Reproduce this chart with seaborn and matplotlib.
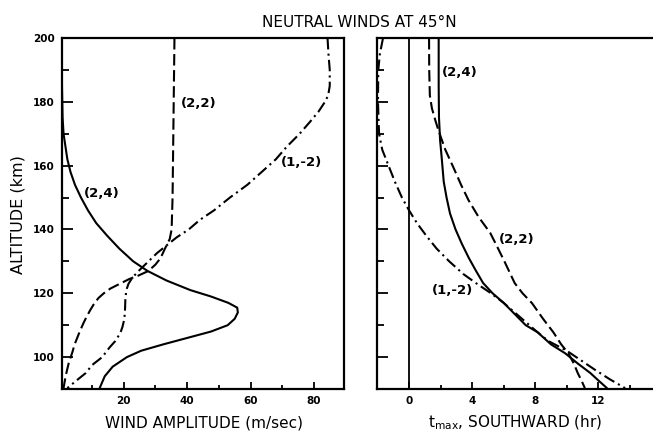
import matplotlib
matplotlib.use("Agg")
import matplotlib.pyplot as plt
import pandas as pd
import seaborn as sns

# Tidal modes shown in both panels
modes = ["(2,4)", "(2,2)", "(1,-2)"]

# Wind amplitude (m/sec) against altitude (km)
amp_alt_24 = [200, 185, 175, 170, 166, 162, 158, 154, 150, 146, 142, 138, 134, 130,
              127, 124, 121, 119, 117, 115.5, 114, 112, 110, 108, 106, 104, 102,
              100, 97, 94, 90.3]
amp_24 = [0.4, 0.5, 0.7, 1.0, 1.6, 2.2, 3.2, 4.6, 6.5, 8.7, 11.3, 14.8, 18.6, 23,
          27.5, 33.5, 41, 47.5, 53, 55.8, 56, 55, 52.8, 47.5, 40, 32.5, 25.5,
          21, 16.5, 14, 12.4]

amp_alt_22 = [200, 150, 140, 137, 134, 131, 129, 127, 125.5, 124.5, 123, 121.5, 120,
              118.5, 116.5, 114.7, 112.5, 110.7, 108, 106, 104, 101.6, 98, 95.5,
              93.7, 90.3]
amp_22 = [36, 35.4, 35.1, 34.5, 33, 31.6, 30, 27.8, 24.5, 21.8, 18.8, 15.8, 13.7,
          12, 10.5, 9.4, 8.2, 7.3, 6.1, 5.3, 4.5, 3.8, 2.6, 2.0, 1.6, 1.0]

amp_alt_12 = [200, 195, 190, 185, 182, 180, 177, 174, 170, 166, 162, 158, 154, 150,
              146, 143, 140, 137.6, 135, 132.6, 130, 127.3, 125, 123, 121, 118, 115,
              112, 109.5, 107.5, 105, 103, 100, 97.5, 95, 93, 90.3]
amp_12 = [84.3, 84.6, 85, 85, 84.5, 83.5, 81.5, 79, 75.5, 71.5, 68, 63.5, 59, 53.5,
          48.5, 44, 40.5, 36.8, 33.5, 30.5, 27.8, 25, 22.8, 21.5, 20.8, 20.5, 20.4,
          20.2, 19.6, 18.9, 17.3, 15.5, 13.2, 10, 8, 5.5, 2.2]

# Time of maximum southward wind (hr) against altitude (km)
tmax_alt_24 = [200, 185, 175, 168, 162, 155, 150, 145, 140, 135.5, 131, 127, 123.2,
               120, 117, 113, 110, 107.8, 104, 101.2, 98, 95, 92.5, 90.3]
tmax_24 = [1.88, 1.88, 1.9, 1.97, 2.08, 2.2, 2.38, 2.6, 2.95, 3.35, 3.8, 4.25, 4.7,
           5.3, 6.0, 6.8, 7.4, 8.15, 9.0, 9.9, 10.7, 11.5, 12.05, 12.55]

tmax_alt_22 = [200, 190, 182, 178, 174, 171, 165, 159.6, 154, 149.2, 144, 138.9,
               135.5, 130, 123.2, 120, 116.9, 112, 107.8, 104, 101.2, 98, 95, 92.5,
               90.3]
tmax_22 = [1.27, 1.28, 1.32, 1.45, 1.68, 1.87, 2.3, 2.8, 3.3, 3.77, 4.4, 5.15,
           5.5, 6.05, 6.7, 7.2, 7.8, 8.5, 9.15, 9.65, 10.1, 10.45, 10.7, 10.95,
           11.15]

tmax_alt_12 = [200, 195, 190, 180, 170, 165, 160, 155, 150, 146, 142, 138, 134, 130,
               126, 123, 120, 117, 114, 111, 108, 105, 102, 99, 96, 93, 90.3]
tmax_12 = [-1.65, -1.85, -1.95, -1.97, -1.9, -1.7, -1.3, -0.9, -0.45, 0.0, 0.5,
           1.1, 1.75, 2.55, 3.45, 4.3, 5.2, 6.0, 6.7, 7.4, 8.1, 8.85, 10.0, 10.9,
           11.8, 12.75, 13.7]

amp_df = pd.concat([
    pd.DataFrame({"mode": m, "alt": a, "val": v})
    for m, a, v in zip(modes, [amp_alt_24, amp_alt_22, amp_alt_12],
                       [amp_24, amp_22, amp_12])
])
tmax_df = pd.concat([
    pd.DataFrame({"mode": m, "alt": a, "val": v})
    for m, a, v in zip(modes, [tmax_alt_24, tmax_alt_22, tmax_alt_12],
                       [tmax_24, tmax_22, tmax_12])
])

sns.set_style("ticks", {"text.color": "black", "xtick.color": "black",
                        "ytick.color": "black", "axes.labelcolor": "black",
                        "axes.edgecolor": "black"})
plt.rcParams["font.family"] = ["DejaVu Sans"]
plt.rcParams["axes.linewidth"] = 1.6

line_dashes = {"(2,4)": "", "(2,2)": (5.5, 2.2), "(1,-2)": (5.5, 2, 1, 2)}

fig = plt.figure(figsize=(6.53, 4.33), dpi=100)
ax1 = fig.add_axes([0.0949, 0.1016, 0.4319, 0.8106])
ax2 = fig.add_axes([0.5781, 0.1016, 0.4467, 0.8106])

for ax, df in ((ax1, amp_df), (ax2, tmax_df)):
    sns.lineplot(data=df, x="val", y="alt", style="mode", dashes=line_dashes,
                 style_order=modes, color="black", linewidth=1.5, orient="y",
                 sort=False, estimator=None, legend=False, ax=ax)
    ax.set_ylim(90, 200)
    ax.set_yticks(range(100, 201, 20))
    ax.set_yticks(range(90, 200, 20), minor=True)
    ax.set_xlabel("")
    ax.set_ylabel("")
    ax.tick_params(which="both", direction="in", color="black",
                   labelcolor="black", width=1.3)
    for side in ("top", "right", "bottom", "left"):
        ax.spines[side].set_visible(True)
        ax.spines[side].set_color("black")

# Left panel: amplitude
ax1.set_xlim(0.5, 89.5)
ax1.set_xticks([20, 40, 60, 80])
ax1.set_xticks([10, 30, 50, 70], minor=True)
ax1.tick_params(axis="y", which="major", length=8, pad=5, labelsize=7.5)
ax1.tick_params(axis="y", which="minor", length=5)
ax1.tick_params(axis="x", which="major", length=5, pad=5, labelsize=7.5)
ax1.tick_params(axis="x", which="minor", length=3)
for lab in ax1.get_xticklabels() + ax1.get_yticklabels():
    lab.set_fontweight("bold")

# Right panel: phase
ax2.set_xlim(-2.0, 16.5)
ax2.set_xticks([0, 4, 8, 12, 16])
ax2.set_xticks([2, 6, 10, 14], minor=True)
ax2.axvline(0, color="black", linewidth=1.3)
ax2.tick_params(axis="y", which="major", length=8, labelleft=False)
ax2.tick_params(axis="y", which="minor", length=5)
ax2.tick_params(axis="x", which="major", length=5, pad=5, labelsize=7.5)
ax2.tick_params(axis="x", which="minor", length=3)
for lab in ax2.get_xticklabels():
    lab.set_fontweight("bold")

# Mode labels beside the curves
lab_kw = dict(fontsize=9.5, fontweight="bold", ha="left", va="center",
              color="black")
ax1.text(38, 179.6, "(2,2)", **lab_kw)
ax1.text(69.5, 161, "(1,-2)", **lab_kw)
ax1.text(7.4, 151.4, "(2,4)", **lab_kw)
ax2.text(2.1, 189.3, "(2,4)", **lab_kw)
ax2.text(5.7, 137, "(2,2)", **lab_kw)
ax2.text(1.46, 121, "(1,-2)", **lab_kw)

txt_kw = dict(fontsize=11, ha="center", va="center", color="black")
fig.text(359 / 653, 1 - 22.5 / 433, "NEUTRAL WINDS AT 45°N", **txt_kw)
fig.text(204 / 653, 1 - 423 / 433, "WIND AMPLITUDE (m/sec)", **txt_kw)
fig.text(515 / 653, 1 - 423 / 433, r"$\mathregular{t_{max}}$, SOUTHWARD (hr)",
         **txt_kw)
fig.text(18 / 653, 1 - 215 / 433, "ALTITUDE (km)", rotation=90,
         **{**txt_kw, "fontsize": 11.5})

fig.savefig("out.png", dpi=100)
